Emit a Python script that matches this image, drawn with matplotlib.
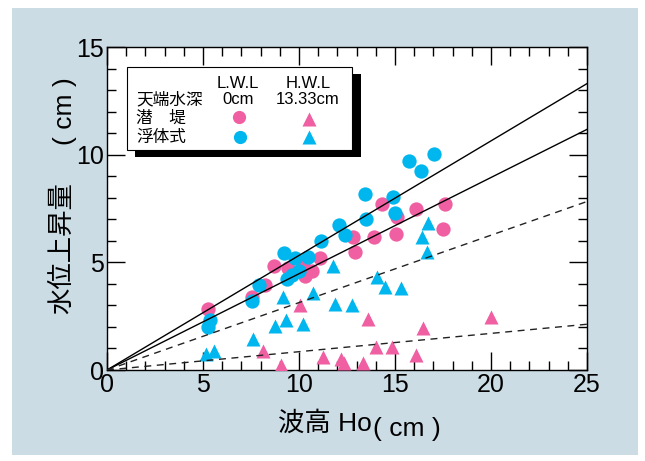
import matplotlib
matplotlib.use("Agg")
import matplotlib.pyplot as plt
from matplotlib.patches import Rectangle
from matplotlib.ticker import MultipleLocator

plt.rcParams['font.family'] = ['Liberation Sans', 'Noto Sans CJK JP']

# data
# 潜堤, L.W.L (0cm)
sub_lwl_x = [5.26, 7.55, 8.23, 8.70, 9.43, 10.21, 10.31, 10.68, 11.09, 12.81,
             12.92, 13.91, 14.32, 15.10, 15.05, 16.10, 17.60, 17.50]
sub_lwl_y = [2.83, 3.39, 3.95, 4.83, 4.74, 4.97, 4.37, 4.60, 5.20, 6.18,
             5.48, 6.18, 7.71, 7.11, 6.32, 7.48, 7.71, 6.55]
# 浮体式, L.W.L (0cm)
flo_lwl_x = [5.36, 5.24, 7.57, 7.93, 9.24, 9.79, 10.49, 9.36, 9.62, 10.00,
             11.13, 12.10, 12.40, 13.50, 13.44, 14.88, 15.00, 15.75, 16.35, 17.03]
flo_lwl_y = [2.32, 2.01, 3.20, 3.95, 5.45, 5.19, 5.26, 4.21, 4.41, 4.60,
             5.98, 6.73, 6.27, 7.00, 8.17, 8.02, 7.31, 9.72, 9.26, 10.03]
# 潜堤, H.W.L (13.33cm)
sub_hwl_x = [8.14, 9.06, 10.05, 11.27, 12.17, 12.34, 13.35, 13.61, 14.01, 14.83,
             16.09, 16.44, 20.00]
sub_hwl_y = [0.90, 0.25, 3.02, 0.62, 0.50, 0.31, 0.31, 2.37, 1.08, 1.05,
             0.70, 1.94, 2.48]
# 浮体式, H.W.L (13.33cm)
flo_hwl_x = [5.16, 5.57, 7.59, 8.75, 9.32, 10.19, 9.18, 10.75, 11.79, 11.88,
             12.74, 14.08, 14.48, 15.31, 16.39, 16.65, 16.74]
flo_hwl_y = [0.74, 0.90, 1.44, 2.06, 2.32, 2.12, 3.38, 3.58, 4.83, 3.07,
             3.02, 4.33, 3.84, 3.79, 6.16, 5.50, 6.84]

# lines through the origin
solid_slopes = [0.532, 0.447]
dashed_slopes = [0.313, 0.085]

pink = '#ef5fa2'
blue = '#00b6ee'
bg = '#cbdce5'

W, H = 645, 461
fig = plt.figure(figsize=(W / 100, H / 100), dpi=100)
fig.patch.set_facecolor('white')

def px(x, y):
    return x / W, 1 - y / H

# light blue panel, behind everything
fig.patches.append(Rectangle(px(12, 455), 626 / W, 447 / H, transform=fig.transFigure,
                             facecolor=bg, edgecolor='none', zorder=-5))

ax = fig.add_axes([107 / W, 1 - 370 / H, 480 / W, 323 / H])
ax.set_facecolor('white')

xs = [0, 25]
for s in solid_slopes:
    ax.plot(xs, [0, 25 * s], color='black', lw=1.0, zorder=4)
for s in dashed_slopes:
    ax.plot(xs, [0, 25 * s], color='#222222', lw=1.0, ls=(0, (5, 4)), zorder=4)

ms = 10.3
ax.plot(sub_lwl_x, sub_lwl_y, 'o', color=pink, ms=ms, mec='none', zorder=3)
ax.plot(flo_lwl_x, flo_lwl_y, 'o', color=blue, ms=ms, mec='none', zorder=3)
ax.plot(sub_hwl_x, sub_hwl_y, '^', color=pink, ms=ms, mec='none', zorder=3)
ax.plot(flo_hwl_x, flo_hwl_y, '^', color=blue, ms=ms, mec='none', zorder=3)

ax.set_xlim(0, 25)
ax.set_ylim(0, 15)
ax.xaxis.set_major_locator(MultipleLocator(5))
ax.xaxis.set_minor_locator(MultipleLocator(1))
ax.yaxis.set_major_locator(MultipleLocator(5))
ax.yaxis.set_minor_locator(MultipleLocator(1))
ax.tick_params(which='both', direction='in', top=True, right=True, width=1.0,
               labelsize=18, pad=2)
ax.tick_params(which='major', length=13)
ax.tick_params(which='minor', length=6.5)
for sp in ax.spines.values():
    sp.set_linewidth(1.0)

# axis titles
fig.text(*px(325, 423), '波高 Ho', fontsize=19, ha='center', va='center')
fig.text(*px(407, 429), '( cm )', fontsize=19, ha='center', va='center')
fig.text(*px(62, 248), '水位上昇量', fontsize=19, rotation=90, ha='center', va='center')
fig.text(*px(65, 111), '( cm )', fontsize=19, rotation=90, ha='center', va='center')

# legend box with shadow
fig.patches.append(Rectangle(px(135, 157), 226 / W, 83 / H, transform=fig.transFigure,
                             facecolor='black', edgecolor='none', zorder=5))
fig.patches.append(Rectangle(px(127, 150), 225 / W, 83 / H, transform=fig.transFigure,
                             facecolor='white', edgecolor='black', lw=0.8, zorder=6))

fs = 12
fig.text(*px(238, 83), 'L.W.L', fontsize=fs, ha='center', va='center', zorder=7)
fig.text(*px(308, 83), 'H.W.L', fontsize=fs, ha='center', va='center', zorder=7)
fig.text(*px(136, 100), '天端水深', fontsize=fs, ha='left', va='center', zorder=7)
fig.text(*px(238, 100), '0cm', fontsize=fs, ha='center', va='center', zorder=7)
fig.text(*px(308, 100), '13.33cm', fontsize=fs, ha='center', va='center', zorder=7)
fig.text(*px(136, 118), '潜\u3000堤', fontsize=fs, ha='left', va='center', zorder=7)
fig.text(*px(136, 137), '浮体式', fontsize=fs, ha='left', va='center', zorder=7)

lg = fig.add_axes([0, 0, 1, 1], facecolor='none')
lg.set_axis_off()
lg.set_xlim(0, W)
lg.set_ylim(H, 0)
lg.set_zorder(8)
lg.plot([239], [117], 'o', color=pink, ms=9.5, mec='none')
lg.plot([309], [119], '^', color=pink, ms=10, mec='none')
lg.plot([240], [137], 'o', color=blue, ms=9.5, mec='none')
lg.plot([309], [137], '^', color=blue, ms=10, mec='none')

fig.savefig('out.png', dpi=100)
